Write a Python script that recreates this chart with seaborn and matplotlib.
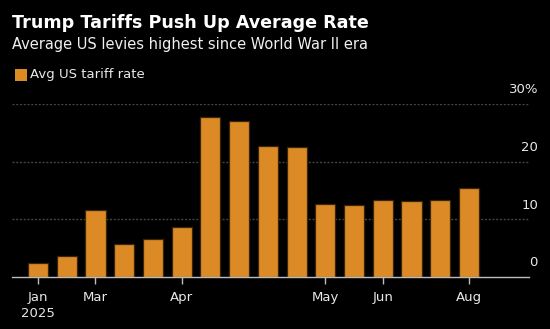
import matplotlib
matplotlib.use("Agg")
import matplotlib.pyplot as plt
import seaborn as sns
import pandas as pd

# ---- data ----
periods = list(range(16))
rates = [2.4, 3.7, 11.6, 5.7, 6.6, 8.6, 27.7, 27.0, 22.8, 22.6,
         12.7, 12.4, 13.3, 13.2, 13.3, 15.4]
tick_positions = [0, 2, 5, 10, 12, 15]
tick_labels = ["Jan\n2025", "Mar", "Apr", "May", "Jun", "Aug"]
y_ticks = [0, 10, 20, 30]
y_labels = ["0", "10", "20", "30%"]
series_name = "Avg US tariff rate"

df = pd.DataFrame({"period": periods, "rate": rates})

sns.set_theme(style="dark")
plt.rcParams["font.family"] = ["DejaVu Sans"]

BG = "#000000"
ORANGE = "#DC8A25"
fig = plt.figure(figsize=(5.5, 3.29), dpi=100, facecolor=BG)
ax = fig.add_axes([12/550, 1-277/329, (529-12)/550, (277-104)/329])
ax.set_facecolor(BG)

sns.barplot(data=df, x="period", y="rate", color=ORANGE, saturation=1,
            width=0.70, edgecolor="#3a2508", linewidth=0.9, ax=ax, zorder=3)

ax.set_xlim(-0.905, 17.09)
ax.set_ylim(0, 30)

# gridlines
for yv in y_ticks[1:]:
    ax.axhline(yv, color="#444444", linestyle=(0, (1.5, 1.2)), linewidth=1.0, zorder=1)
ax.grid(False)

for s in ["top", "right", "left"]:
    ax.spines[s].set_visible(False)
ax.spines["bottom"].set_color("#bdbdbd")
ax.spines["bottom"].set_linewidth(1.0)
ax.spines["bottom"].set_zorder(4)

ax.set_xticks(tick_positions)
ax.set_xticklabels(tick_labels, color="#e8e8e8", fontsize=9.5, linespacing=1.35)
ax.tick_params(axis="x", length=5, width=1, color="#bdbdbd", pad=5, bottom=True)
ax.set_yticks([])
ax.set_xlabel("")
ax.set_ylabel("")

# y labels on the right, above gridlines
for yv, lab in zip(y_ticks, y_labels):
    ax.text(538/550, 1-(277 - yv*5.767 - 14)/329, lab, transform=fig.transFigure,
            ha="right", va="center", color="#e8e8e8", fontsize=9.5)

# title, subtitle, legend
fig.text(12/550, 1-23/329, "Trump Tariffs Push Up Average Rate", color="white",
         fontsize=12.6, fontweight="bold", ha="left", va="center")
fig.text(12/550, 1-45/329, "Average US levies highest since World War II era", color="#f0f0f0",
         fontsize=10.5, ha="left", va="center")
fig.patches.append(plt.Rectangle((15/550, 1-80.5/329), 12/550, 12/329, transform=fig.transFigure,
                                 facecolor=ORANGE, edgecolor="none", figure=fig))
fig.text(30/550, 1-74.5/329, series_name, color="#e8e8e8", fontsize=9.5, ha="left", va="center")

fig.savefig("out.png", dpi=100, facecolor=BG)
